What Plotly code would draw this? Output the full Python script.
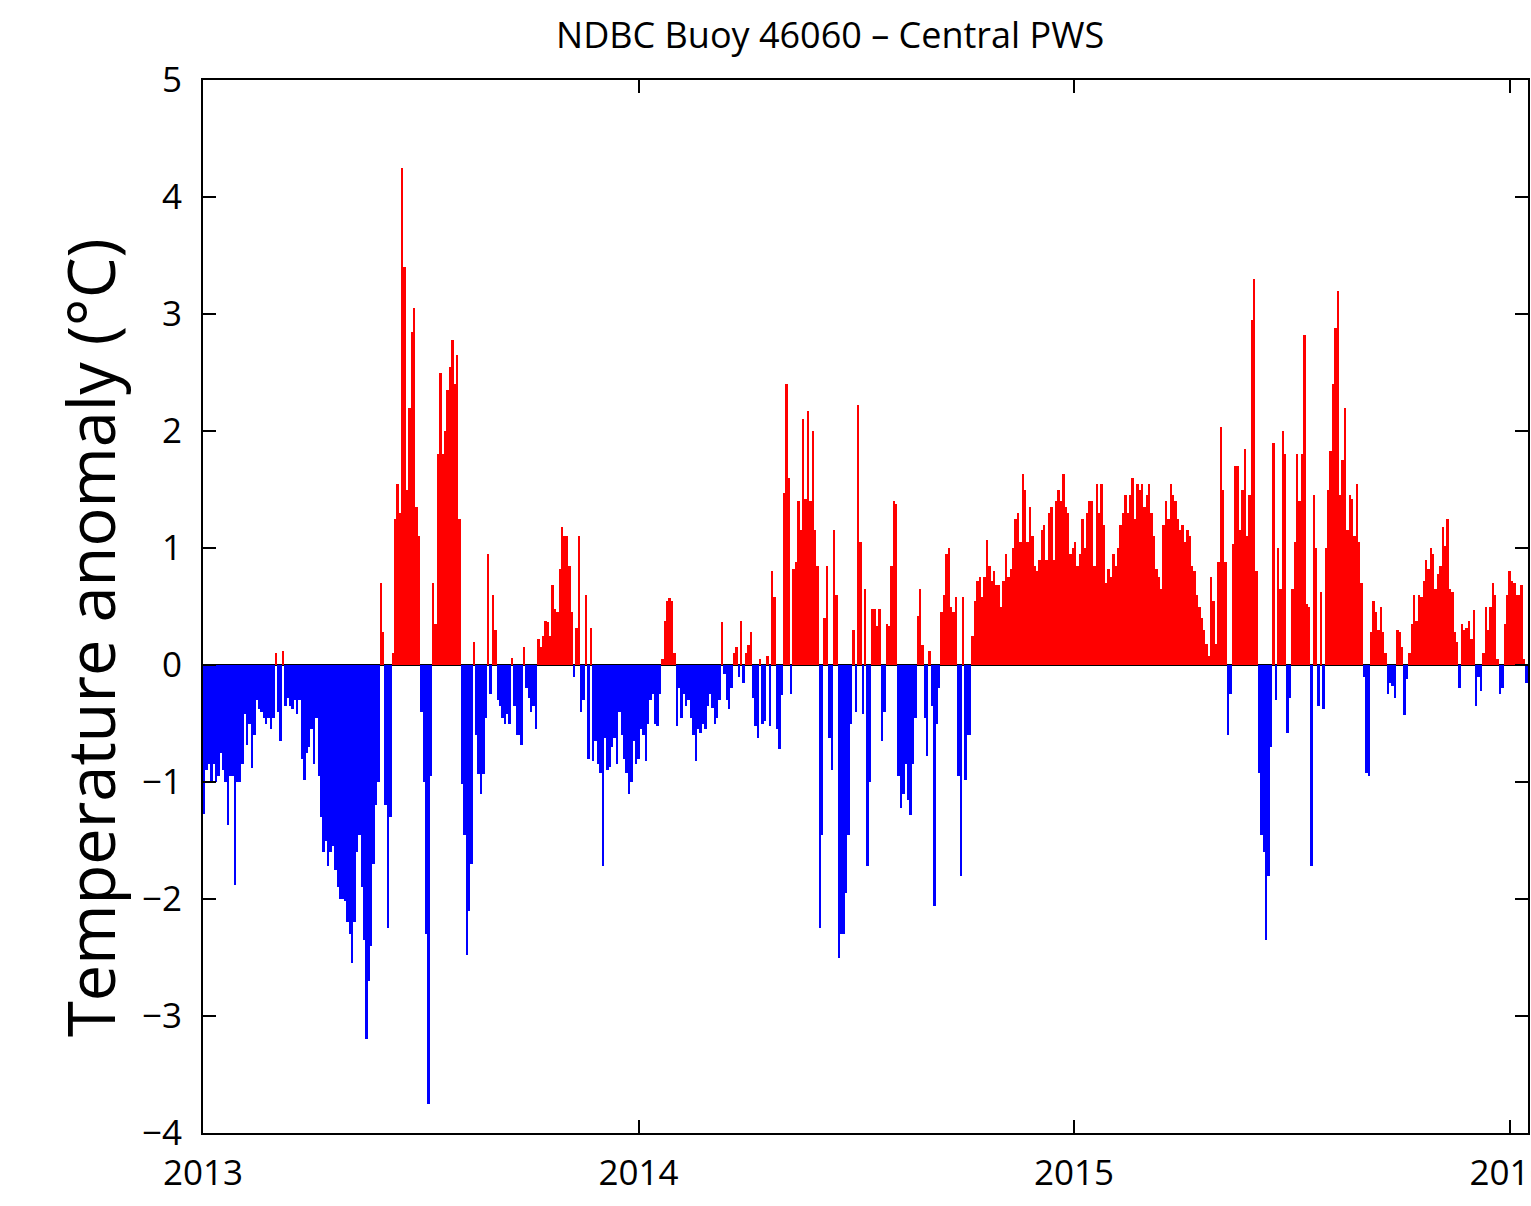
import pandas as pd
import plotly.graph_objects as go

# ---- data: temperature anomaly (deg C), one value per 2-day period starting 2013-01-01 ----
start_date = "2013-01-01"
step_days = 2
anomaly = [
    -1.27, -0.9, -0.85, -1.0, -0.85, -1.0, -0.95, -0.75, -0.9, -1.0,
    -1.37, -0.95, -0.95, -1.88, -1.0, -1.0, -0.85, -0.42, -0.68, -0.5,
    -0.88, -0.6, -0.3, -0.38, -0.4, -0.45, -0.5, -0.45, -0.55, -0.45,
    0.1, -0.4, -0.65, 0.12, -0.35, -0.28, -0.35, -0.38, -0.3, -0.42,
    -0.3, -0.8, -0.98, -0.75, -0.7, -0.55, -0.85, -0.45, -0.95, -1.3,
    -1.6, -1.5, -1.72, -1.6, -1.55, -1.75, -1.9, -2.0, -2.0, -2.02,
    -2.2, -2.3, -2.55, -2.2, -1.6, -1.45, -1.9, -2.35, -3.2, -2.7,
    -2.4, -1.7, -1.2, -1.0, 0.7, 0.28, -1.2, -2.25, -1.3, 0.1,
    1.25, 1.55, 1.3, 4.25, 3.4, 1.5, 2.2, 2.85, 3.05, 1.35,
    1.1, -0.4, -1.0, -2.3, -3.75, -0.95, 0.7, 0.35, 1.8, 2.5,
    1.8, 2.0, 2.35, 2.55, 2.78, 2.4, 2.65, 1.25, -1.02, -1.45,
    -2.48, -2.1, -1.7, 0.2, -0.6, -0.93, -1.1, -0.93, -0.45, 0.95,
    -0.25, 0.6, 0.3, -0.3, -0.35, -0.45, -0.5, -0.42, -0.5, 0.06,
    -0.35, -0.6, -0.6, -0.68, 0.15, -0.2, -0.28, -0.4, -0.35, -0.55,
    0.22, 0.15, 0.25, 0.38, 0.37, 0.25, 0.68, 0.48, 0.45, 0.82,
    1.18, 1.1, 1.1, 0.85, 0.45, -0.1, 0.32, 1.1, -0.4, -0.3,
    0.6, -0.8, 0.32, -0.82, -0.65, -0.85, -0.92, -1.72, -0.62, -0.9,
    -0.87, -0.7, -0.62, -0.85, -0.4, -0.6, -0.8, -0.92, -1.1, -1.0,
    -0.65, -0.85, -0.8, -0.55, -0.6, -0.82, -0.5, -0.3, -0.25, -0.5,
    -0.52, -0.25, 0.05, 0.38, 0.55, 0.57, 0.55, 0.1, -0.52, -0.2,
    -0.45, -0.25, -0.35, -0.3, -0.45, -0.6, -0.82, -0.55, -0.58, -0.5,
    -0.55, -0.35, -0.25, -0.37, -0.5, -0.45, -0.3, 0.37, -0.08, -0.3,
    -0.38, -0.2, 0.1, 0.15, -0.1, 0.38, -0.15, 0.1, 0.17, 0.28,
    -0.28, -0.52, -0.62, 0.05, -0.5, -0.48, 0.08, -0.52, 0.8, 0.58,
    -0.55, -0.72, -0.26, 1.47, 2.4, 1.6, -0.25, 0.82, 0.88, 1.4,
    1.15, 2.1, 1.42, 2.17, 1.4, 2.0, 1.15, 0.85, -2.25, -1.45,
    0.4, 0.85, -0.62, -0.9, 1.15, 0.6, -2.5, -2.3, -2.3, -1.95,
    -1.45, -0.5, 0.3, -0.4, 2.22, 1.05, -0.42, 0.65, -1.72, -1.0,
    0.48, 0.48, 0.33, 0.48, -0.65, -0.4, 0.35, 0.33, 0.85, 1.4,
    1.38, -0.95, -1.22, -1.1, -0.85, -1.15, -1.28, -0.85, -0.45, 0.42,
    0.65, 0.17, -0.45, -0.78, 0.12, -0.35, -2.06, -0.5, -0.2, 0.45,
    0.6, 0.95, 1.0, 0.5, 0.45, 0.58, -0.95, -1.8, 0.58, -0.98,
    -0.6, -0.6, 0.25, 0.55, 0.72, 0.75, 0.58, 0.75, 1.07, 0.85,
    0.72, 0.8, 0.68, 0.68, 0.5, 0.72, 0.95, 0.75, 0.82, 1.0,
    1.25, 1.3, 1.05, 1.63, 1.5, 1.05, 1.35, 1.1, 0.85, 0.8,
    0.9, 1.15, 1.2, 0.9, 1.3, 1.35, 0.9, 1.4, 1.5, 1.4,
    1.63, 1.35, 1.3, 0.95, 1.0, 1.05, 0.85, 0.95, 1.25, 1.0,
    1.3, 1.4, 1.4, 0.85, 1.55, 1.3, 1.55, 1.2, 0.7, 0.82,
    0.75, 0.95, 0.85, 1.0, 1.2, 1.3, 1.45, 1.3, 1.45, 1.6,
    1.25, 1.55, 1.5, 1.55, 1.35, 1.45, 1.55, 1.3, 1.1, 0.82,
    0.75, 0.65, 1.2, 1.4, 1.25, 1.55, 1.45, 1.4, 1.25, 1.15,
    1.2, 1.05, 1.15, 1.1, 0.85, 0.8, 0.6, 0.5, 0.4, 0.3,
    0.18, 0.08, 0.75, 0.55, 0.18, 0.88, 2.03, 1.5, 0.88, -0.6,
    -0.25, 1.03, 1.7, 1.7, 1.15, 1.5, 1.85, 1.1, 1.45, 2.95,
    3.3, 0.8, -0.92, -1.45, -1.6, -2.35, -1.8, -0.7, 1.9, -0.3,
    1.0, 0.65, 2.0, 1.8, -0.58, -0.28, 0.65, 1.05, 1.8, 1.4,
    1.8, 2.82, 0.52, 0.5, -1.72, 1.45, 1.0, -0.35, 0.62, -0.38,
    1.0, 1.5, 1.83, 2.4, 2.88, 3.2, 1.45, 1.75, 2.2, 1.15,
    1.45, 1.42, 1.1, 1.55, 1.05, 0.7, -0.1, -0.92, -0.95, 0.28,
    0.55, 0.45, 0.3, 0.5, 0.28, 0.1, -0.25, -0.15, -0.18, -0.28,
    0.3, 0.28, 0.15, -0.43, -0.12, 0.1, 0.35, 0.6, 0.38, 0.6,
    0.58, 0.72, 0.9, 0.82, 1.0, 0.95, 0.65, 0.78, 0.85, 1.18,
    1.02, 1.25, 0.65, 0.62, 0.28, 0.2, -0.2, 0.35, 0.3, 0.32,
    0.38, 0.22, 0.47, -0.35, -0.1, -0.22, 0.1, 0.5, 0.3, 0.5,
    0.7, 0.6, 0.05, -0.25, -0.2, 0.35, 0.6, 0.8, 0.72, 0.7,
    0.6, 0.6, 0.68, 0.05, -0.15,
]

x_tick_dates = ["2013-01-01", "2014-01-01", "2015-01-01", "2016-01-01"]
x_tick_labels = ["2013", "2014", "2015", "2016"]
y_ticks = [-4, -3, -2, -1, 0, 1, 2, 3, 4, 5]

title_text = "NDBC Buoy 46060 – Central PWS"
y_title_text = "Temperature anomaly (°C)"

# ---- figure ----
dates = pd.date_range(start_date, periods=len(anomaly), freq=f"{step_days}D") + pd.Timedelta(days=step_days / 2)
colors = ["#ff0000" if v >= 0 else "#0000ff" for v in anomaly]

FONT = "Open Sans"

fig = go.Figure(
    go.Bar(
        x=dates,
        y=anomaly,
        width=step_days * 86400000,
        marker=dict(color=colors, line=dict(width=0)),
        showlegend=False,
    )
)

fig.update_layout(
    width=1531,
    height=1206,
    margin=dict(l=203, r=3, t=80, b=73),
    paper_bgcolor="white",
    plot_bgcolor="white",
    bargap=0,
    font=dict(family=FONT, color="black"),
    title=dict(
        text=title_text,
        font=dict(size=36, family=FONT, color="black"),
        xref="paper", x=0.4733, xanchor="center",
        yref="container", y=1 - 35 / 1206, yanchor="middle",
    ),
    annotations=[
        dict(
            text=y_title_text,
            textangle=-90,
            xref="paper", yref="paper",
            x=(90 - 203) / 1325, y=(1133 - 638) / 1053,
            xanchor="center", yanchor="middle",
            showarrow=False,
            font=dict(size=65, family=FONT, color="black"),
        )
    ],
)

fig.update_xaxes(
    type="date",
    range=["2013-01-01", "2016-01-16 10:00"],
    tickmode="array",
    tickvals=x_tick_dates,
    ticktext=x_tick_labels,
    ticks="inside",
    ticklen=13,
    tickwidth=2,
    tickcolor="black",
    showline=True,
    linewidth=2,
    linecolor="black",
    mirror="ticks",
    showgrid=False,
    zeroline=False,
    tickfont=dict(size=35, family=FONT, color="black"),
    ticklabelstandoff=8,
    ticklabeloverflow="allow",
    automargin=False,
)

fig.update_yaxes(
    range=[-4, 5],
    tickmode="array",
    tickvals=y_ticks,
    ticks="inside",
    ticklen=13,
    tickwidth=2,
    tickcolor="black",
    showline=True,
    linewidth=2,
    linecolor="black",
    mirror="ticks",
    showgrid=False,
    zeroline=True,
    zerolinecolor="black",
    zerolinewidth=2,
    tickfont=dict(size=35, family=FONT, color="black"),
    ticklabelstandoff=12,
    automargin=False,
)

fig.write_html("out.html")
